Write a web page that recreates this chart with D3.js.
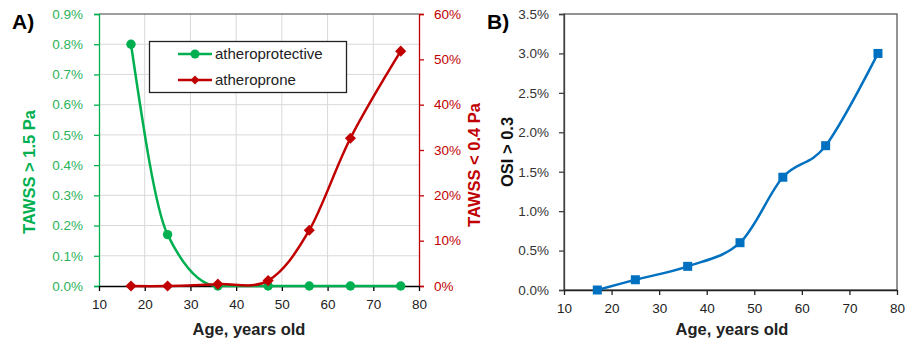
<!DOCTYPE html>
<html><head><meta charset="utf-8">
<script src="https://cdn.jsdelivr.net/npm/d3@7/dist/d3.min.js"></script>
<style>body{margin:0;background:#fff}svg{display:block;font-family:"Liberation Sans",Arial,sans-serif}</style>
</head><body><svg id="c" width="910" height="345"></svg>
<script>
const ages = [17, 25, 36, 47, 56, 65, 76];
const atheroprotective = [0.0080, 0.0017, 0.0000, 0.0000, 0.0000, 0.0000, 0.0000];
const atheroprone = [0.000, 0.000, 0.004, 0.012, 0.123, 0.326, 0.518];
const osi = [0.0000, 0.0013, 0.0030, 0.0060, 0.0143, 0.0183, 0.0300];
const xTicks = [10, 20, 30, 40, 50, 60, 70, 80];
const leftTicksA = [0, 0.001, 0.002, 0.003, 0.004, 0.005, 0.006, 0.007, 0.008, 0.009];
const rightTicksA = [0, 0.1, 0.2, 0.3, 0.4, 0.5, 0.6];
const yTicksB = [0, 0.005, 0.010, 0.015, 0.020, 0.025, 0.030, 0.035];

const GREEN = "#00b050", GREEN_T = "#2cb35a", RED = "#c00000", BLUE = "#0070c0";
const svg = d3.select("#c");
const curve = d3.curveCardinal.tension(0);
const TICK_FS = 13.5, TITLE_FS = 16.5;

// ---------- Panel A ----------
const xA = d3.scaleLinear().domain([10, 80]).range([99, 419]);
const yL = d3.scaleLinear().domain([0, 0.009]).range([286, 14]);
const yR = d3.scaleLinear().domain([0, 0.6]).range([286, 14]);
const gA = svg.append("g");
gA.selectAll(".gx").data(xTicks.slice(1, -1)).join("line")
  .attr("x1", d => xA(d)).attr("x2", d => xA(d)).attr("y1", 14).attr("y2", 286)
  .attr("stroke", "#d9d9d9").attr("stroke-width", 1);
gA.selectAll(".gy").data(leftTicksA.slice(1, -1)).join("line")
  .attr("x1", 99).attr("x2", 419).attr("y1", d => yL(d)).attr("y2", d => yL(d))
  .attr("stroke", "#d9d9d9").attr("stroke-width", 1);
gA.append("line").attr("x1", 99).attr("x2", 419).attr("y1", 14).attr("y2", 14).attr("stroke", "#404040").attr("stroke-width", 1.2);
const axL = gA.append("g").attr("transform", "translate(99,0)")
  .call(d3.axisLeft(yL).tickValues(leftTicksA).tickSize(5).tickPadding(11).tickFormat(d3.format(".1%")));
axL.selectAll("path,line").attr("stroke", GREEN).attr("stroke-width", 1.3);
axL.selectAll("text").attr("fill", GREEN_T).attr("font-size", TICK_FS);
const axR = gA.append("g").attr("transform", "translate(419,0)")
  .call(d3.axisRight(yR).tickValues(rightTicksA).tickSize(5).tickPadding(10).tickFormat(d3.format(".0%")));
axR.selectAll("path,line").attr("stroke", RED).attr("stroke-width", 1.3);
axR.selectAll("text").attr("fill", RED).attr("font-size", TICK_FS);
const axBA = gA.append("g").attr("transform", "translate(0,286)")
  .call(d3.axisBottom(xA).tickValues(xTicks).tickSize(5).tickPadding(8).tickSizeOuter(0));
axBA.selectAll("path,line").attr("stroke", "#000").attr("stroke-width", 1.3);
axBA.selectAll("text").attr("fill", "#222").attr("font-size", TICK_FS);

const lineG = d3.line().x((d, i) => xA(ages[i])).y(d => yL(d)).curve(d3.curveMonotoneX);
const lineR = d3.line().x((d, i) => xA(ages[i])).y(d => yR(d)).curve(curve);
gA.append("path").attr("d", lineG(atheroprotective)).attr("fill", "none").attr("stroke", GREEN).attr("stroke-width", 2.5);
gA.selectAll(".mg").data(atheroprotective).join("circle")
  .attr("cx", (d, i) => xA(ages[i])).attr("cy", d => yL(d)).attr("r", 4.7).attr("fill", GREEN);
gA.append("path").attr("d", lineR(atheroprone)).attr("fill", "none").attr("stroke", RED).attr("stroke-width", 2.5);
gA.selectAll(".mr").data(atheroprone).join("path")
  .attr("transform", (d, i) => `translate(${xA(ages[i])},${yR(d)}) rotate(45)`)
  .attr("d", d3.symbol().type(d3.symbolSquare).size(62)).attr("fill", RED);

// legend
const lg = gA.append("g");
lg.append("rect").attr("x", 149.5).attr("y", 41.5).attr("width", 197).attr("height", 51)
  .attr("fill", "#fff").attr("stroke", "#222").attr("stroke-width", 1.3);
const legendItems = [{name: "atheroprotective", c: GREEN, t: "c"}, {name: "atheroprone", c: RED, t: "d"}];
legendItems.forEach((it, i) => {
  const y = 54 + i * 26;
  lg.append("line").attr("x1", 178).attr("x2", 212).attr("y1", y).attr("y2", y).attr("stroke", it.c).attr("stroke-width", 2.5);
  if (it.t === "c") lg.append("circle").attr("cx", 195).attr("cy", y).attr("r", 4.5).attr("fill", it.c);
  else lg.append("path").attr("transform", `translate(195,${y}) rotate(45)`).attr("d", d3.symbol().type(d3.symbolSquare).size(40)).attr("fill", it.c);
  lg.append("text").attr("x", 215).attr("y", y).attr("dy", "0.35em").attr("font-size", 15).attr("fill", "#222").text(it.name);
});

svg.append("text").attr("x", 12).attr("y", 29).attr("font-size", 21).attr("font-weight", "bold").text("A)");
svg.append("text").attr("transform", "translate(35,172) rotate(-90)").attr("text-anchor", "middle")
  .attr("font-size", TITLE_FS).attr("font-weight", "bold").attr("fill", GREEN).text("TAWSS > 1.5 Pa");
svg.append("text").attr("transform", "translate(480,165) rotate(-90)").attr("text-anchor", "middle")
  .attr("font-size", TITLE_FS).attr("font-weight", "bold").attr("fill", RED).text("TAWSS < 0.4 Pa");
svg.append("text").attr("x", 249).attr("y", 335).attr("text-anchor", "middle")
  .attr("font-size", TITLE_FS).attr("font-weight", "bold").attr("fill", "#222").text("Age, years old");

// ---------- Panel B ----------
const xB = d3.scaleLinear().domain([10, 80]).range([564, 897]);
const yB = d3.scaleLinear().domain([0, 0.035]).range([290, 14]);
const gB = svg.append("g");
gB.append("rect").attr("x", 564).attr("y", 14).attr("width", 333).attr("height", 276)
  .attr("fill", "none").attr("stroke", "#595959").attr("stroke-width", 1.3);
const axLB = gB.append("g").attr("transform", "translate(564,0)")
  .call(d3.axisLeft(yB).tickValues(yTicksB).tickSize(5).tickPadding(10).tickFormat(d3.format(".1%")));
axLB.selectAll("path,line").attr("stroke", "#404040").attr("stroke-width", 1.3);
axLB.selectAll("text").attr("fill", "#333").attr("font-size", TICK_FS);
const axBB = gB.append("g").attr("transform", "translate(0,290)")
  .call(d3.axisBottom(xB).tickValues(xTicks).tickSize(5).tickPadding(8).tickSizeOuter(0));
axBB.selectAll("path,line").attr("stroke", "#222").attr("stroke-width", 1.3);
axBB.selectAll("text").attr("fill", "#222").attr("font-size", TICK_FS);
const lineB = d3.line().x((d, i) => xB(ages[i])).y(d => yB(d)).curve(curve);
gB.append("path").attr("d", lineB(osi)).attr("fill", "none").attr("stroke", BLUE).attr("stroke-width", 2.5);
gB.selectAll(".mb").data(osi).join("rect")
  .attr("x", (d, i) => xB(ages[i]) - 4.5).attr("y", d => yB(d) - 4.5).attr("width", 9).attr("height", 9).attr("fill", BLUE);
svg.append("text").attr("x", 487).attr("y", 29).attr("font-size", 21).attr("font-weight", "bold").text("B)");
svg.append("text").attr("transform", "translate(513,152) rotate(-90)").attr("text-anchor", "middle")
  .attr("font-size", TITLE_FS).attr("font-weight", "bold").attr("fill", "#111").text("OSI > 0.3");
svg.append("text").attr("x", 732).attr("y", 335).attr("text-anchor", "middle")
  .attr("font-size", TITLE_FS).attr("font-weight", "bold").attr("fill", "#222").text("Age, years old");
</script></body></html>
